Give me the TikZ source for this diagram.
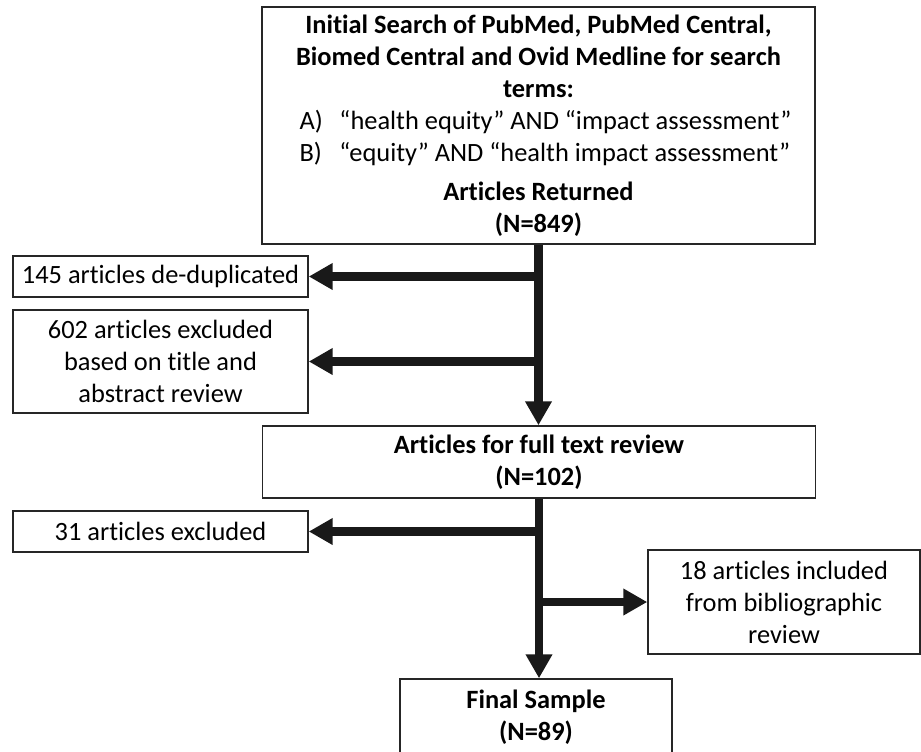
\documentclass[tikz,border=0pt]{standalone}
\usepackage{fontspec}
\setmainfont{Carlito}[Ligatures={NoCommon}]
\usetikzlibrary{arrows.meta}

\newlength\pxu
\setlength\pxu{0.75pt}

\tikzset{
  box/.style={draw=black!85, line width=1.1pt, inner sep=0pt, align=center,
    font=\fontsize{19.8}{24}\selectfont},
  flow/.style={draw=black!90, line width=6.5pt,
    -{Triangle[length=18pt,width=19pt]}}
}

\begin{document}
\begin{tikzpicture}[x=\pxu, y=-\pxu]

	\useasboundingbox (0,0) rectangle (921,751);

	% boxes down the middle
	\node[box, minimum width=553\pxu, minimum height=237\pxu] (search) at (538.5,125.5)%
	{\textbf{Initial Search of PubMed, PubMed Central,}\\
	 \textbf{Biomed Central and Ovid Medline for search}\\
	 \textbf{terms:}\\
	 \makebox[478\pxu][l]{\makebox[40\pxu][l]{A)}“health equity” AND “impact assessment”}\\
	 \makebox[478\pxu][l]{\makebox[40\pxu][l]{B)}“equity” AND “health impact assessment”}\\[5pt]
	 \textbf{Articles Returned}\\
	 \textbf{(N=849)}};

	\node[box, minimum width=553\pxu, minimum height=72\pxu] (fulltext) at (539,462)%
	{\textbf{Articles for full text review}\\ \textbf{(N=102)}};

	\node[box, minimum width=272\pxu, minimum height=76\pxu] (final) at (536,717)%
	{\textbf{Final Sample}\\ \textbf{(N=89)}};

	% side boxes
	\node[box, minimum width=295\pxu, minimum height=41\pxu] (dedup) at (160.5,276.5)%
	{145 articles de-duplicated};

	\node[box, minimum width=295\pxu, minimum height=103\pxu] (titleabs) at (160.5,361.5)%
	{602 articles excluded\\ based on title and\\ abstract review};

	\node[box, minimum width=295\pxu, minimum height=41\pxu] (excl) at (160.5,531.5)%
	{31 articles excluded};

	\node[box, minimum width=272\pxu, minimum height=104\pxu] (biblio) at (784,602)%
	{18 articles included\\ from bibliographic\\ review};

	% arrows
	\draw[flow] (search.south) -- (search.south |- fulltext.north);
	\draw[flow] (search.south |- dedup.east) -- (dedup.east);
	\draw[flow] (search.south |- titleabs.east) -- (titleabs.east);

	\draw[flow] (fulltext.south) -- (fulltext.south |- final.north);
	\draw[flow] (fulltext.south |- excl.east) -- (excl.east);
	\draw[flow] (fulltext.south |- biblio.west) -- (biblio.west);

\end{tikzpicture}
\end{document}
